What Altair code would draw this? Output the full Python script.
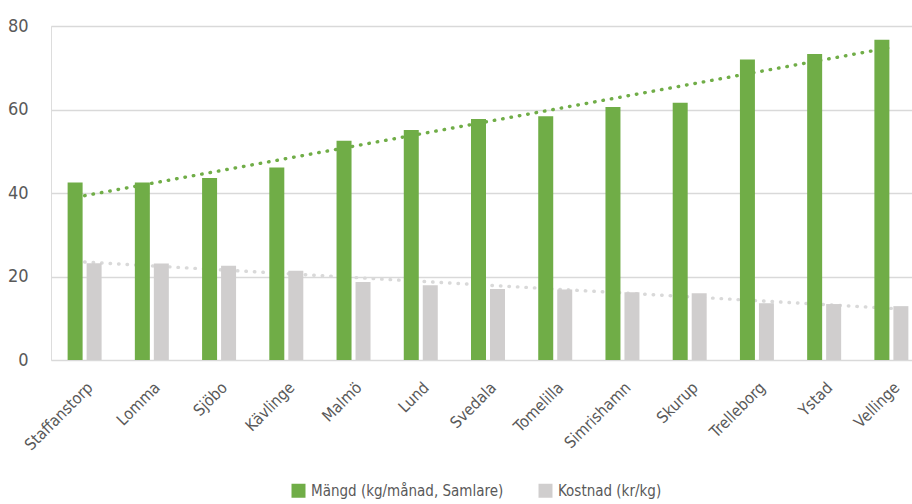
import altair as alt
import numpy as np
import pandas as pd

# Kommuner och värden per kommun
kommuner = ["Staffanstorp", "Lomma", "Sjöbo", "Kävlinge", "Malmö", "Lund", "Svedala",
            "Tomelilla", "Simrishamn", "Skurup", "Trelleborg", "Ystad", "Vellinge"]
mangd = [42.5, 42.5, 43.6, 46.1, 52.5, 55.1, 57.7, 58.4, 60.6, 61.6, 72.0, 73.3, 76.7]
kostnad = [23.2, 23.1, 22.6, 21.4, 18.7, 17.9, 17.0, 16.9, 16.2, 16.0, 13.6, 13.4, 12.9]

serie_namn = ["Mängd (kg/månad, Samlare)", "Kostnad (kr/kg)"]
bar_colors = ["#70ad47", "#d0cece"]
trend_colors = ["#70ad47", "#d9d9d9"]
y_ticks = [0, 20, 40, 60, 80]

FONT = "DejaVu Sans Condensed"
TEXT = "#595959"

rows = []
for i, k in enumerate(kommuner):
    rows.append({"kommun": k, "serie": serie_namn[0], "varde": mangd[i]})
    rows.append({"kommun": k, "serie": serie_namn[1], "varde": kostnad[i]})
df = pd.DataFrame(rows)

# Linjära trendlinjer (minsta kvadrat) för båda serierna
idx = np.arange(len(kommuner))
trend_frames = []
for namn, vals in zip(serie_namn, [mangd, kostnad]):
    k_, m_ = np.polyfit(idx, vals, 1)
    trend_frames.append(pd.DataFrame({"kommun": kommuner, "serie": namn,
                                      "trend": k_ * idx + m_}))
trend_df = pd.concat(trend_frames, ignore_index=True)

x_enc = alt.X("kommun:N", sort=kommuner, title=None,
              scale=alt.Scale(range=[0, 874], paddingInner=0, paddingOuter=0),
              axis=alt.Axis(labelAngle=-45, labelFont=FONT, labelFontSize=16,
                            labelColor=TEXT, labelPadding=19, ticks=False,
                            domain=False, grid=False))
y_scale = alt.Scale(domain=[0, 80], nice=False)

trend_layers = []
for namn, col in zip(serie_namn, trend_colors):
    trend_layers.append(
        alt.Chart(trend_df).transform_filter(alt.datum.serie == namn)
        .mark_line(stroke=col, strokeWidth=3.4, strokeCap="round", strokeDash=[0.5, 8])
        .encode(x=x_enc, y=alt.Y("trend:Q", scale=y_scale))
    )

bars = alt.Chart(df).mark_bar().encode(
    x=x_enc,
    xOffset=alt.XOffset("serie:N", sort=serie_namn,
                        scale=alt.Scale(paddingInner=0.2105, paddingOuter=0.875)),
    y=alt.Y("varde:Q", scale=y_scale, title=None,
            axis=alt.Axis(values=y_ticks, labelFont=FONT, labelFontSize=18,
                          labelColor=TEXT, labelPadding=23, ticks=False, domain=False,
                          gridColor="#d9d9d9", gridWidth=1.5)),
    color=alt.Color("serie:N", sort=serie_namn,
                    scale=alt.Scale(domain=serie_namn, range=bar_colors),
                    legend=alt.Legend(title=None, orient="none", direction="horizontal",
                                      legendX=240, legendY=457, symbolType="square",
                                      symbolSize=196, symbolStrokeWidth=0,
                                      labelFont=FONT, labelFontSize=15, labelColor=TEXT,
                                      labelLimit=400, labelOffset=5, columnPadding=34)),
)

chart = alt.layer(*trend_layers, bars).properties(
    width=861, height=334,
    autosize=alt.AutoSizeParams(type="none"),
    padding={"left": 51, "top": 26, "right": 0, "bottom": 144},
).configure_view(stroke=None).configure(background="white")

chart.save("out.html", embed_options={"renderer": "svg", "actions": False})
